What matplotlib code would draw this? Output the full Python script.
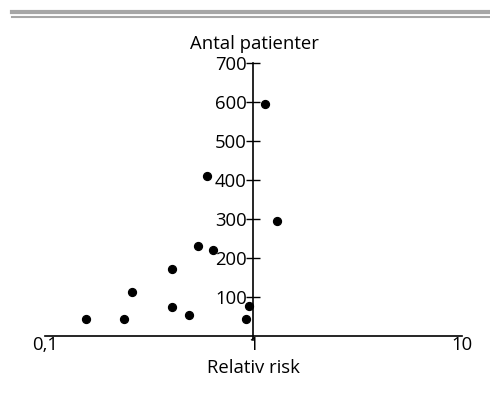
import matplotlib
matplotlib.use('Agg')
import matplotlib.pyplot as plt
from matplotlib.lines import Line2D

# ── data ─────────────────────────────────────────────────────
relativ_risk = [0.157, 0.239, 0.260, 0.408, 0.408, 0.488, 0.543, 0.643,
                0.600, 0.918, 0.957, 1.30, 1.13]
patienter    = [42, 43, 112, 171, 74, 53, 229, 219,
                410, 42, 76, 295, 594]
y_ticks = [100, 200, 300, 400, 500, 600, 700]
x_ticks = [0.1, 1, 10]
x_labels = ['0,1', '1', '10']

plt.rcParams['font.family'] = ['Open Sans', 'DejaVu Sans']

fig = plt.figure(figsize=(4.9, 3.93), dpi=100)
ax = fig.add_axes([0.0918, 0.1463, 0.851, 0.693])

ax.scatter(relativ_risk, patienter, s=32, color='black', zorder=3, clip_on=False)

ax.set_xscale('log')
ax.set_xlim(0.1, 10)
ax.set_ylim(0, 700)

# spines: y axis through x=1, x axis at y=0
ax.spines['left'].set_position(('data', 1))
ax.spines['left'].set_bounds(-12, 700)
ax.spines['right'].set_visible(False)
ax.spines['top'].set_visible(False)
for s in ('left', 'bottom'):
    ax.spines[s].set_linewidth(1.2)

ax.set_yticks(y_ticks)
ax.set_yticklabels([str(v) for v in y_ticks], fontsize=13.3)
ax.tick_params(axis='y', direction='inout', length=9.5, width=1, pad=0)

ax.set_xticks(x_ticks)
ax.set_xticklabels(x_labels, fontsize=13.3)
ax.xaxis.set_minor_locator(plt.NullLocator())
ax.tick_params(axis='x', length=0, pad=0)

ax.set_xlabel('Relativ risk', fontsize=13.3, labelpad=4)
fig.text(254 / 490, 1 - 44 / 393, 'Antal patienter', fontsize=13.3,
         ha='center', va='center')

# grey double rule at the top
fig.add_artist(Line2D([12 / 490, 1], [1 - 12 / 393] * 2, color='#a6a6a6', lw=3))
fig.add_artist(Line2D([12 / 490, 1], [1 - 17 / 393] * 2, color='#a6a6a6', lw=1.5))

fig.savefig('out.png', dpi=100)
